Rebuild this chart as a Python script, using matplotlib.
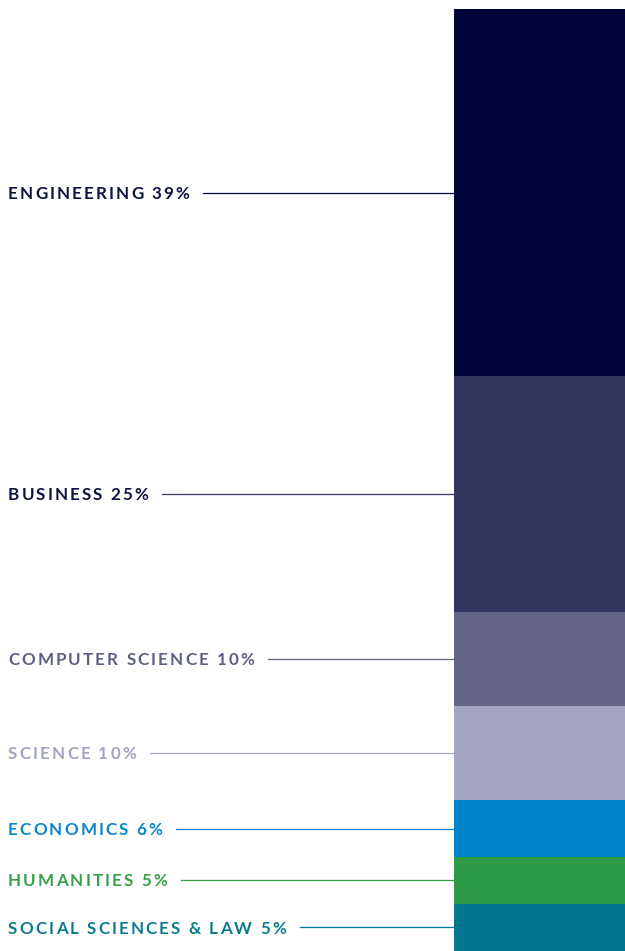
import matplotlib.pyplot as plt
import matplotlib.transforms as mtransforms

# Datos
categorias = ["ENGINEERING", "BUSINESS", "COMPUTER SCIENCE", "SCIENCE",
              "ECONOMICS", "HUMANITIES", "SOCIAL SCIENCES & LAW"]
porcentajes = [39, 25, 10, 10, 6, 5, 5]
colores_barra = ["#01053a", "#33355e", "#646487", "#a3a4c0",
                 "#0084c9", "#2e9b47", "#00788f"]
colores_texto = ["#0d1240", "#0d1240", "#5f5f85", "#a3a4c0",
                 "#0b86c8", "#36a04c", "#0e7b8d"]

W, H = 625, 951
fig = plt.figure(figsize=(W / 100, H / 100), dpi=100)
ax = fig.add_axes([454 / W, 0, 1 - 454 / W, 942 / H])

# Barra apilada
bases = []
acum = 0
for v in porcentajes:
    bases.append(acum)
    acum += v
ax.bar([0] * len(porcentajes), porcentajes, bottom=bases, width=1,
       color=colores_barra, linewidth=0)
ax.set_xlim(-0.5, 0.5)
ax.set_ylim(sum(porcentajes), 0)
ax.axis("off")

renderer = fig.canvas.get_renderer()
trans = mtransforms.blended_transform_factory(fig.transFigure, ax.transData)
fuente = dict(family="Lato", weight="bold", size=12.25)
tracking = 2.1  # px extra entre letras


def ancho(s):
    # ancho en pixeles, midiendo con una barra para no perder espacios finales
    t = fig.text(0, 0, s + "|", **fuente)
    w = t.get_window_extent(renderer).width
    t.remove()
    t = fig.text(0, 0, "|", **fuente)
    w -= t.get_window_extent(renderer).width
    t.remove()
    return w


def texto_espaciado(x0, y, s, color):
    tr = mtransforms.offset_copy(trans, fig=fig, y=-4.4, units="points")
    for i, ch in enumerate(s):
        x = x0 + ancho(s[:i]) + i * tracking
        fig.text(x / W, y, ch, transform=tr, color=color, va="baseline", **fuente)
    return x0 + ancho(s) + (len(s) - 1) * tracking


for cat, v, b, cb, ct in zip(categorias, porcentajes, bases, colores_barra, colores_texto):
    y = b + v / 2
    fin = texto_espaciado(8, y, f"{cat} {v}%", ct)
    ax.plot([(fin + 14) / W, 454 / W], [y, y], transform=trans, color=cb,
            linewidth=0.9, clip_on=False)

fig.savefig("out.png", dpi=100)
